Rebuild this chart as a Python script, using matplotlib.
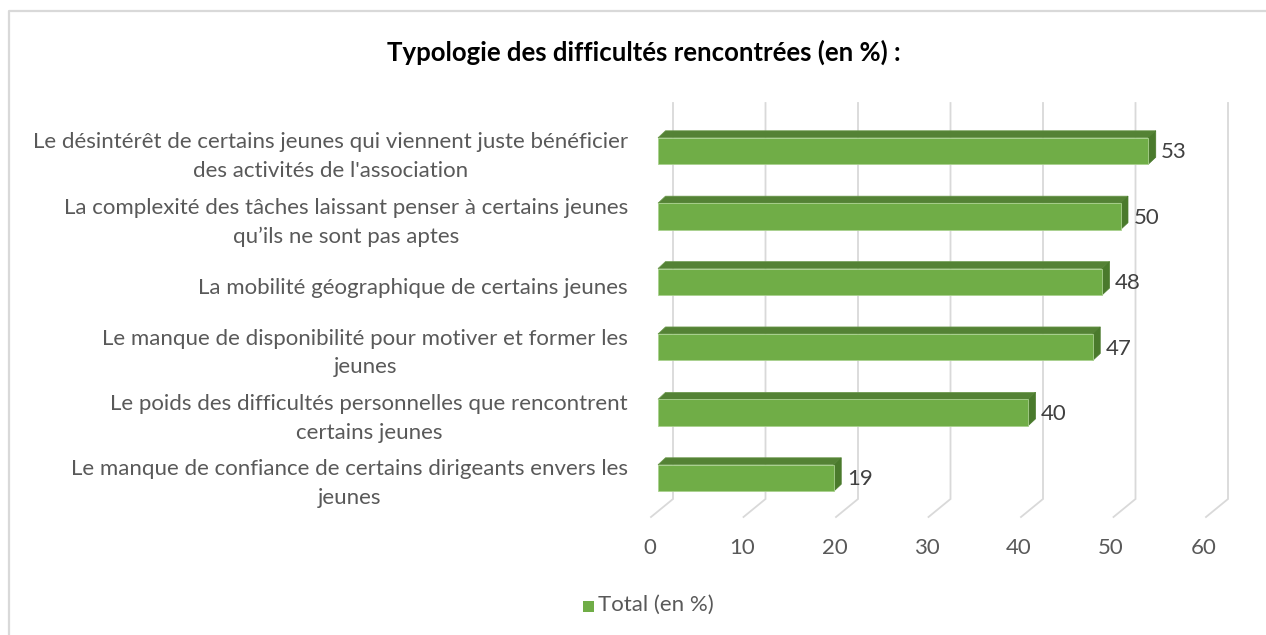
import matplotlib
matplotlib.use("Agg")
import matplotlib.pyplot as plt
from matplotlib.patches import Polygon, Rectangle
from matplotlib.lines import Line2D

categories = [
    "Le désintérêt de certains jeunes qui viennent juste bénéficier\ndes activités de l'association",
    "La complexité des tâches laissant penser à certains jeunes\nqu\u2019ils ne sont pas aptes",
    "La mobilité géographique de certains jeunes",
    "Le manque de disponibilité pour motiver et former les\njeunes",
    "Le poids des difficultés personnelles que rencontrent\ncertains jeunes",
    "Le manque de confiance de certains dirigeants envers les\njeunes",
]
values = [53, 50, 48, 47, 40, 19]
xticks = [0, 10, 20, 30, 40, 50, 60]
title = "Typologie des difficultés rencontrées (en %) :"
legend_label = "Total (en %)"

plt.rcParams['font.family'] = ['Lato', 'DejaVu Sans']

W, H = 1266, 635
fig = plt.figure(figsize=(W / 100, H / 100), dpi=100)
fig.patch.set_facecolor("white")

# axes placement in pixels
px_left, px_right = 600, 1250
px_top, px_bot = 95, 560
x0_px = 658.0
ppu = 9.25
y0_px = 151.0
pps = 65.4
xmin = (px_left - x0_px) / ppu
xmax = (px_right - x0_px) / ppu
ytop = (px_top - y0_px) / pps
ybot = (px_bot - y0_px) / pps

ax = fig.add_axes([px_left / W, 1 - px_bot / H, (px_right - px_left) / W, (px_bot - px_top) / H])
ax.set_xlim(xmin, xmax)
ax.set_ylim(ybot, ytop)
ax.axis("off")

grid_c = "#d9d9d9"
fs = 16
# back-wall gridlines and floor slants
back_off = 15.0 / ppu
front_off = -7.0 / ppu
y_gtop = (103 - y0_px) / pps
y_gbot = (499 - y0_px) / pps
y_floor = (517 - y0_px) / pps
for v in xticks:
    ax.add_line(Line2D([v + back_off, v + back_off, v + front_off],
                       [y_gtop, y_gbot, y_floor], color=grid_c, lw=1.3, zorder=1,
                       solid_joinstyle="miter"))
    ax.text((650 + 9.22 * v - x0_px) / ppu, (548 - y0_px) / pps, str(v),
            ha="center", va="center", fontsize=fs, color="#595959")

# bars with 3D faces
bh = 26.5 / pps
dx = 7.5 / ppu
dy = 7.0 / pps
front_c = "#70ad47"
top_c = "#548235"
side_c = "#4a7a2c"
for i, v in enumerate(values):
    y_top = i - bh / 2
    y_bottom = i + bh / 2
    top = Polygon([(0, y_top), (dx, y_top - dy), (v + dx, y_top - dy), (v, y_top)],
                  closed=True, facecolor=top_c, edgecolor="#6d9a4e", lw=0.5, zorder=3)
    side = Polygon([(v, y_top), (v + dx, y_top - dy), (v + dx, y_bottom - dy), (v, y_bottom)],
                   closed=True, facecolor=side_c, edgecolor=side_c, lw=0.5, zorder=3)
    ax.add_patch(top)
    ax.add_patch(side)
    ax.barh(i, v, height=bh, left=0, color=front_c, edgecolor="#a9d18e", lw=0.6, zorder=4)
    ax.text(v + 13.0 / ppu, i + 0.02, str(v), ha="left", va="center",
            fontsize=fs, color="#404040", zorder=5)

# category labels
for i, c in enumerate(categories):
    ax.text((628 - x0_px) / ppu, i + 0.09, c, ha="right", va="center",
            fontsize=fs, color="#595959", multialignment="center", linespacing=1.55)

# title
fig.text(644 / W, 1 - 52 / H, title, ha="center", va="center", fontsize=18.5,
         fontweight="bold", color="black")

# legend
fig.patches.append(Rectangle((583 / W, 1 - 612 / H), 11 / W, 11 / H,
                             transform=fig.transFigure, facecolor=front_c, edgecolor="none"))
fig.text(598 / W, 1 - 605 / H, legend_label, ha="left", va="center", fontsize=fs,
         color="#595959")

# outer border (partly cropped)
fig.add_artist(Line2D([9 / W, 9 / W, 1.0], [0.0, 1 - 11 / H, 1 - 11 / H],
                      transform=fig.transFigure, color=grid_c, lw=1.6))

fig.savefig("out.png", dpi=100, facecolor="white")
